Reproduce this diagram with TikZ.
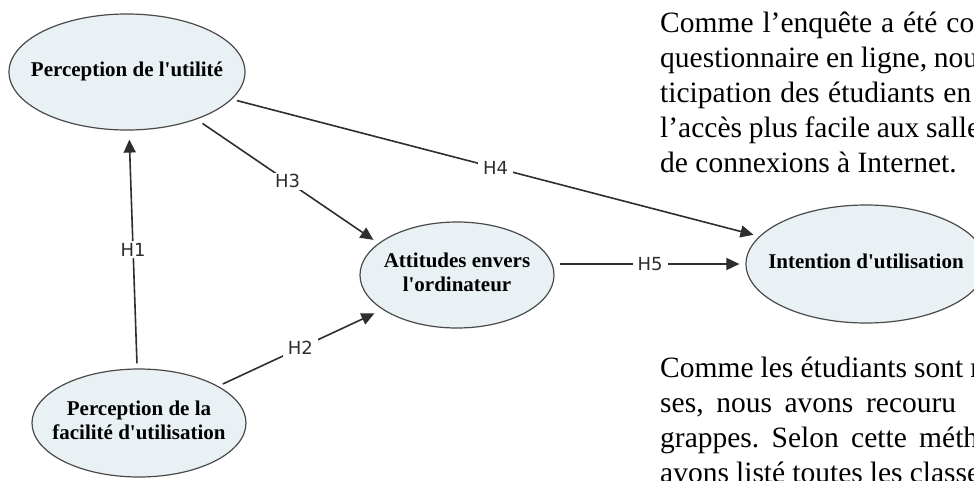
\documentclass[tikz,border=0pt]{standalone}
\usepackage{fontspec}
\setmainfont{Liberation Serif}
\newfontfamily\lvfont{Liberation Serif}
\newfontfamily\hfont{DejaVu Sans}
\usetikzlibrary{shapes.geometric, arrows.meta, positioning}
\frenchspacing

\definecolor{lvfill}{HTML}{E9F1F5}
\definecolor{lvline}{HTML}{4A4A4A}
\definecolor{hline}{HTML}{2E2E2E}

% ellipse text takes no width, the ellipse size is set by hand
\newcommand{\lvtext}[1]{\makebox[0pt]{\begin{tabular}{@{}c@{}}#1\end{tabular}}}
% justified line of the page text, cut at the picture edge
\newcommand{\jline}[2]{\makebox[#1][s]{#2}}

\begin{document}
\begin{tikzpicture}[x=1pt, y=-1pt,
    latent/.style={ellipse, draw=lvline, line width=1.2pt, fill=lvfill, inner sep=0pt,
        font=\lvfont\bfseries\fontsize{21}{24}\selectfont},
    hyp/.style={draw=hline, line width=1.6pt, -{Triangle[length=13pt, width=12pt]},
        shorten <=5pt, shorten >=6pt},
    hlabel/.style={fill=white, inner xsep=5pt, inner ysep=2pt, text=hline,
        font=\hfont\fontsize{18}{20}\selectfont},
    textline/.style={anchor=base west, inner sep=0pt, font=\fontsize{29.5}{35}\selectfont}]
        \useasboundingbox (0,0) rectangle (974,480);
        \clip (0,0) rectangle (974,480);

        \node[latent, minimum width=236pt, minimum height=116pt] (pu) at (127,72) {\lvtext{Perception de l'utilité}};
        \node[latent, minimum width=194pt, minimum height=106pt] (att) at (457,275) {\lvtext{Attitudes envers\\l'ordinateur}};
        \node[latent, minimum width=240pt, minimum height=118pt] (int) at (866,264) {\lvtext{Intention d'utilisation}};
        \node[latent, minimum width=214pt, minimum height=108pt] (pf) at (139,423) {\lvtext{Perception de la\\facilité d'utilisation}};

        \draw (pf) edge[hyp, shorten >=9pt] node[hlabel] (h1) {H1} (pu)
        (pf) edge[hyp, shorten >=9pt] node[hlabel] (h2) {H2} (att)
        (pu) edge[hyp, shorten <=7pt] node[hlabel] (h3) {H3} (att.158)
        (pu) edge[hyp] node[hlabel] (h4) {H4} (int)
        (att.east |- int.west) edge[hyp] node[hlabel] (h5) {H5} (int.west)
        ;

        % page text round the figure
        \node[textline] (t1) at (660,32) {\jline{314pt}{Comme l’enquête a été co}};
        \node[textline] (t2) at (660,67) {\jline{318pt}{questionnaire en ligne, nou}};
        \node[textline] (t3) at (660,102) {\jline{311pt}{ticipation des étudiants en}};
        \node[textline] (t4) at (660,137) {\jline{320pt}{l’accès plus facile aux salle}};
        \node[textline] (t5) at (660,172) {de connexions à Internet.};
        \node[textline] (b1) at (660,377) {\jline{320pt}{Comme les étudiants sont r}};
        \node[textline] (b2) at (660,412) {\jline{296pt}{ses, nous avons recouru}};
        \node[textline] (b3) at (660,447) {\jline{318pt}{grappes. Selon cette méth}};
        \node[textline] (b4) at (660,482) {\jline{320pt}{avons listé toutes les classe}};
    \end{tikzpicture}
\end{document}
